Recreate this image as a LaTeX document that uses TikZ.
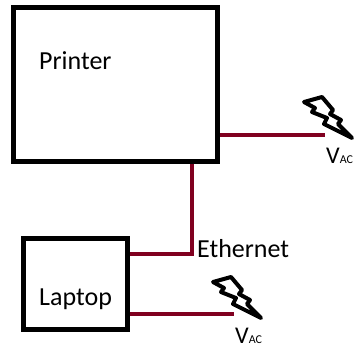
\documentclass[tikz,border=0pt]{standalone}
\usepackage{fontspec}
\setmainfont{Carlito}
\definecolor{wirered}{RGB}{128,0,32}
\tikzset{
	devicebox/.style={draw=black,line width=5pt,inner sep=0pt},
	wire/.style={draw=wirered,line width=4pt},
	label/.style={font=\fontsize{26}{30}\selectfont,inner sep=0pt,anchor=base west},
	supply/.style={font=\fontsize{24}{26}\selectfont,inner sep=0pt,anchor=base west},
	bolt/.pic={\draw[black,line width=4pt,line join=round,fill=white]
		(-48,-36) -- (-30,-41) -- (-19,-28) -- (-22,-24) -- (-11,-18) -- (-14,-14) -- (0,0)
		-- (-28,-14) -- (-25,-20) -- (-40,-26) -- (-37,-30) -- cycle;}
}
\begin{document}
\begin{tikzpicture}[x=1pt,y=-1pt]
	\useasboundingbox (0,0) rectangle (354,349);
	\node[devicebox,minimum width=204.5pt,minimum height=154pt] (printer) at (115.25,84) {};
	\node[devicebox,minimum width=104pt,minimum height=91pt] (laptop) at (75,283.5) {};
	\node[label] (printerlabel) at (39,69) {Printer};
	\node[label] (laptoplabel) at (39,305) {Laptop};
	\node[label] (ethernetlabel) at (197,257) {Ethernet};
	\node[supply] (vacone) at (326,163) {V\fontsize{12}{12}\selectfont AC};
	\node[supply] (vactwo) at (235,343) {V\fontsize{12}{12}\selectfont AC};
	\coordinate (endone) at (325,135);
	\coordinate (endtwo) at (234,314);
	\coordinate (bend) at (192,254);
	\pic at (352,138) {bolt};
	\pic at (261,318) {bolt};
	\path[wire]
	(printer.east |- endone) -- (endone)
	(printer.south -| bend) -- (bend) -- (laptop.east |- bend)
	(laptop.east |- endtwo) -- (endtwo);
\end{tikzpicture}
\end{document}
